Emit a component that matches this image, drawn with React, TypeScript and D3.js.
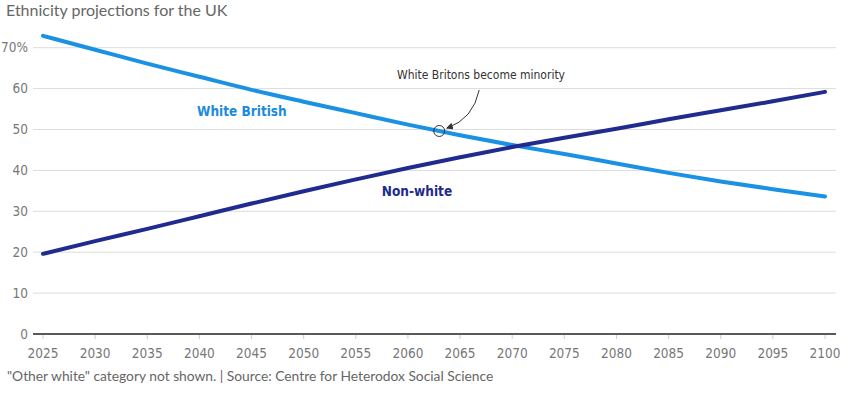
import { useMemo } from "react";
import * as d3 from "d3";

const years = [2025, 2030, 2035, 2040, 2045, 2050, 2055, 2060, 2065, 2070, 2075, 2080, 2085, 2090, 2095, 2100];
const whiteBritish = [72.9, 69.5, 66.1, 62.9, 59.7, 56.8, 54.0, 51.2, 48.6, 46.2, 44.0, 41.7, 39.4, 37.3, 35.4, 33.6];
const nonWhite = [19.6, 22.7, 25.7, 28.8, 31.9, 34.9, 37.8, 40.6, 43.2, 45.7, 48.0, 50.2, 52.5, 54.7, 56.9, 59.2];
const yTicks = [0, 10, 20, 30, 40, 50, 60, 70];
const minorityYear = 2063;

const WIDTH = 859;
const HEIGHT = 396;
const COND = "'DejaVu Sans Condensed', 'Liberation Sans Narrow', sans-serif";
const SANS = "Lato, 'Noto Sans', sans-serif";

const App = () => {
  const x = useMemo(() => d3.scaleLinear().domain([2025, 2100]).range([43, 825]), []);
  const y = useMemo(() => d3.scaleLinear().domain([0, 70]).range([334, 47.7]), []);

  const line = d3
    .line<number>()
    .x((_, i) => x(years[i]))
    .y((d) => y(d))
    .curve(d3.curveMonotoneX);

  const wbAt = d3.scaleLinear().domain(years).range(whiteBritish);
  const cx = x(minorityYear);
  const cy = y(wbAt(minorityYear));

  return (
    <div style={{ position: "absolute", left: 0, top: 0 }}>
      <svg width={WIDTH} height={HEIGHT} style={{ display: "block", background: "#fff" }}>
        <text x={6} y={16} fontFamily={SANS} fontSize={16} fill="#666">
          Ethnicity projections for the UK
        </text>

        {yTicks.map((t) => (
          <g key={t}>
            <line
              x1={33}
              x2={836}
              y1={y(t)}
              y2={y(t)}
              stroke={t === 0 ? "#222" : "#dcdcdc"}
              strokeWidth={t === 0 ? 1.5 : 1}
            />
            <text
              x={28}
              y={y(t)}
              dy="0.35em"
              textAnchor="end"
              fontFamily={COND}
              fontSize={13.5}
              fill="#777"
            >
              {t === 70 ? "70%" : t}
            </text>
          </g>
        ))}

        {years.map((yr) => (
          <g key={yr}>
            <line x1={x(yr)} x2={x(yr)} y1={335} y2={339} stroke="#ccc" />
            <text
              x={x(yr)}
              y={358}
              textAnchor="middle"
              fontFamily={COND}
              fontSize={13.5}
              fill="#777"
            >
              {yr}
            </text>
          </g>
        ))}

        <path d={line(whiteBritish) || ""} fill="none" stroke="#1a91e3" strokeWidth={4} strokeLinecap="round" />
        <path d={line(nonWhite) || ""} fill="none" stroke="#212b8f" strokeWidth={4} strokeLinecap="round" />

        <text x={197} y={116} fontFamily={COND} fontWeight="bold" fontSize={13.5} fill="#1a8ae0">
          White British
        </text>
        <text x={417} y={196} textAnchor="middle" fontFamily={COND} fontWeight="bold" fontSize={13.5} fill="#222a8c">
          Non-white
        </text>

        <circle cx={cx} cy={cy} r={5.5} fill="none" stroke="#333" strokeWidth={1} />
        <defs>
          <marker id="arrow" viewBox="0 0 10 10" refX={8} refY={5} markerWidth={7} markerHeight={7} orient="auto">
            <path d="M0,0 L10,5 L0,10 z" fill="#333" />
          </marker>
        </defs>
        <path
          d={`M${cx + 40},${cy - 41} Q${cx + 34},${cy - 12} ${cx + 8},${cy - 3}`}
          fill="none"
          stroke="#333"
          strokeWidth={1}
          markerEnd="url(#arrow)"
        />
        <text x={481} y={79} textAnchor="middle" fontFamily={COND} fontSize={12} fill="#333">
          White Britons become minority
        </text>

        <text x={7} y={381} fontFamily={SANS} fontSize={13.8} fill="#666">
          "Other white" category not shown. | Source: Centre for Heterodox Social Science
        </text>
      </svg>
    </div>
  );
};

export default App;
